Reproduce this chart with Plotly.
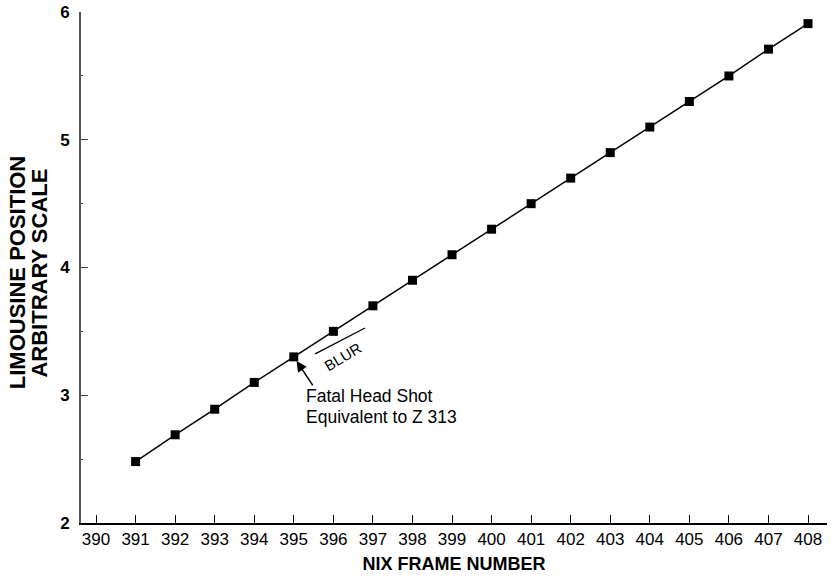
import plotly.graph_objects as go

# Nix frame numbers and limousine position (arbitrary scale)
frames = [391, 392, 393, 394, 395, 396, 397, 398, 399,
          400, 401, 402, 403, 404, 405, 406, 407, 408]
position = [2.48, 2.69, 2.89, 3.10, 3.30, 3.50, 3.70, 3.90, 4.10,
            4.30, 4.50, 4.70, 4.90, 5.10, 5.30, 5.50, 5.71, 5.91]
x_ticks = list(range(390, 409))
y_ticks = [2, 3, 4, 5, 6]

FONT = "Liberation Sans, Arial, Helvetica"

fig = go.Figure()

fig.add_trace(
    go.Scatter(
        x=frames,
        y=position,
        mode="lines+markers",
        line=dict(color="black", width=1.5),
        marker=dict(symbol="square", size=9, color="black"),
        showlegend=False,
    )
)

# arrow pointing at the head shot frame
fig.add_annotation(
    x=frames[4], y=position[4], text="", showarrow=True,
    ax=20, ay=30, arrowhead=2, arrowsize=1.4, arrowwidth=1.5,
    arrowcolor="black", standoff=5,
)
fig.add_annotation(
    x=395.25, y=2.99, text="Fatal Head Shot", showarrow=False,
    xanchor="left", yanchor="middle",
    font=dict(family=FONT, size=17.5, color="black"),
)
fig.add_annotation(
    x=395.25, y=2.83, text="Equivalent to Z 313", showarrow=False,
    xanchor="left", yanchor="middle",
    font=dict(family=FONT, size=17.5, color="black"),
)

# "BLUR" label with its bar
fig.add_shape(type="line", x0=395.54, y0=3.323, x1=396.80, y1=3.526,
              line=dict(color="black", width=1.3))
fig.add_annotation(
    x=396.25, y=3.30, text="BLUR", showarrow=False, textangle=-31,
    font=dict(family=FONT, size=15, color="black"),
)

# y axis title, one annotation per line
fig.add_annotation(
    x=-0.085, y=0.49, xref="paper", yref="paper", text="<b>LIMOUSINE POSITION</b>",
    showarrow=False, textangle=-90, xanchor="center", yanchor="middle",
    font=dict(family=FONT, size=22, color="black"),
)
fig.add_annotation(
    x=-0.055, y=0.49, xref="paper", yref="paper", text="<b>ARBITRARY SCALE</b>",
    showarrow=False, textangle=-90, xanchor="center", yanchor="middle",
    font=dict(family=FONT, size=22, color="black"),
)

fig.update_layout(
    width=833,
    height=581,
    margin=dict(l=81, r=6, t=12, b=58),
    plot_bgcolor="white",
    paper_bgcolor="white",
    font=dict(family=FONT, color="black"),
    xaxis=dict(
        range=[389.62, 408.48],
        tickvals=x_ticks,
        ticks="inside",
        ticklen=8,
        tickcolor="black",
        showgrid=False,
        zeroline=False,
        showline=True,
        linecolor="black",
        linewidth=1.5,
        tickfont=dict(size=17),
        automargin=False,
        title=dict(text="<b>NIX FRAME NUMBER</b>", font=dict(size=18), standoff=9),
    ),
    yaxis=dict(
        range=[1.999, 6.001],
        tickvals=y_ticks,
        ticks="inside",
        ticklen=7,
        tickcolor="#444",
        showgrid=False,
        zeroline=False,
        showline=True,
        linecolor="#555",
        linewidth=2,
        tickfont=dict(size=17, weight="bold"),
        ticklabelstandoff=6,
        automargin=False,
        minor=dict(ticks="inside", ticklen=2, dtick=0.5, tickcolor="#444"),
    ),
)

# drop the default 8px page margin so the figure sits at the window corner
fig.write_html(
    "out.html",
    config={"displayModeBar": False},
    post_script="document.body.style.margin='0';",
)
